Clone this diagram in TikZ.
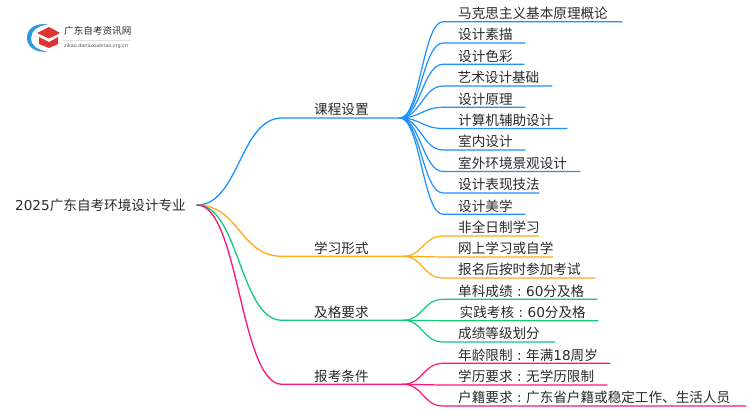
\documentclass[tikz,border=0pt]{standalone}
\usepackage{fontspec}
\setmainfont{Noto Sans CJK SC}
\newfontfamily\lat{DejaVu Sans}
\usetikzlibrary{calc}
\definecolor{cblue}{HTML}{1E90FF}
\definecolor{corange}{HTML}{FFAA18}
\definecolor{cgreen}{HTML}{14C87A}
\definecolor{cpink}{HTML}{FF1478}
\definecolor{ctext}{HTML}{2A2A2A}
\definecolor{clogored}{HTML}{E0322F}
\definecolor{clogoblue}{HTML}{2A9AE0}
\tikzset{
  conn/.style={line width=1.3pt,line cap=round},
  label/.style={font=\fontsize{13.6}{14}\selectfont,text=ctext,anchor=base west,inner sep=0pt},
}
\newcommand{\branch}[5]{%
  \draw[conn,#1] (#2) .. controls ($(#2)+(#4,0)$) and ($(#3)+(-#4,0)$) .. (#3) -- (#5);
}
\newcommand{\cln}{\hspace{4.5pt}{\lat :}\hspace{4.5pt}}
\begin{document}
\begin{tikzpicture}[x=1pt,y=-1pt]
\useasboundingbox (0,0) rectangle (750,410);
\fill[white] (0,0) rectangle (750,410);
% logo
\fill[clogoblue] (48,24.5) .. controls (36,22.5) and (27,28) .. (27,38) .. controls (27,47) and (36,53) .. (47,51.5) .. controls (38,50) and (31,46) .. (31,38) .. controls (31,31) and (38,25.5) .. (48,24.5) -- cycle;
\fill[clogored] (37,33) -- (49,27) -- (60,33) -- (49,38.5) -- cycle;
\fill[clogored] (39,37) -- (49,42) -- (58,37) -- (58,44) -- (49,48) -- (39,44) -- cycle;
\node[anchor=west,inner sep=0pt,font=\fontsize{9.6}{10}\selectfont,text=ctext] (logot) at (64,31) {广东自考资讯网};
\draw[black!12,line width=.5pt] (63,40) -- (131,40);
\node[anchor=west,inner sep=0pt,font=\fontsize{4.9}{6}\selectfont,text=black!65] (logos) at (64,46.5) {\lat zikao.daniuxuexiao.org.cn};
% root
\node[label] (root) at (15,210) {{\lat 2025}广东自考环境设计专业};
\coordinate (r) at (197,205);
% level 1
\coordinate (b1) at (282,118); \coordinate (h1) at (400,118);
\coordinate (b2) at (282,256.3); \coordinate (h2) at (403,256.3);
\coordinate (b3) at (282,320.3); \coordinate (h3) at (403,320.3);
\coordinate (b4) at (282,384.3); \coordinate (h4) at (403,384.3);
\branch{cblue}{r}{b1}{42}{h1}
\branch{corange}{r}{b2}{42}{h2}
\branch{cgreen}{r}{b3}{42}{h3}
\branch{cpink}{r}{b4}{42}{h4}
\node[label] (n1) at (314,114.3) {课程设置};
\node[label] (n2) at (314,253.3) {学习形式};
\node[label] (n3) at (314,317.3) {及格要求};
\node[label] (n4) at (314,381.3) {报考条件};
% leaves
\foreach \i/\h/\c/\tx/\yy/\xe/\t in {
 a/h1/cblue/458/21.7/622/马克思主义基本原理概论,
 b/h1/cblue/458/43/525/设计素描,
 c/h1/cblue/458/64.3/524/设计色彩,
 d/h1/cblue/457.5/86/552/艺术设计基础,
 e/h1/cblue/458/107.3/525/设计原理,
 f/h1/cblue/458/128.5/567/计算机辅助设计,
 g/h1/cblue/458/150/525/室内设计,
 h/h1/cblue/458/171.5/580/室外环境景观设计,
 i/h1/cblue/458/193/539/设计表现技法,
 j/h1/cblue/458/214.3/525/设计美学,
 k/h2/corange/458/236/539/非全日制学习,
 l/h2/corange/458/257/553/网上学习或自学,
 m/h2/corange/458/278/595/报名后按时参加考试,
 n/h3/cgreen/458/299.3/597/单科成绩\cln{\lat 60}分及格,
 o/h3/cgreen/459.5/320.7/598/实践考核\cln{\lat 60}分及格,
 p/h3/cgreen/458/342/555/成绩等级划分,
 q/h4/cpink/458/363.3/610/年龄限制\cln 年满{\lat 18}周岁,
 r/h4/cpink/458/385/607/学历要求\cln 无学历限制,
 s/h4/cpink/458/406/746/户籍要求\cln 广东省户籍或稳定工作、生活人员}{
  \coordinate (s\i) at (443,\yy);
  \coordinate (e\i) at (\xe,\yy);
  \node[label] (t\i) at (\tx,\yy-3.3) {\t};
  \draw[conn,\c,line width=1.2pt] (\h) .. controls ($(\h)+(20,0)$) and ($(s\i)+(-20,0)$) .. (s\i) -- (e\i);
}
\end{tikzpicture}
\end{document}
